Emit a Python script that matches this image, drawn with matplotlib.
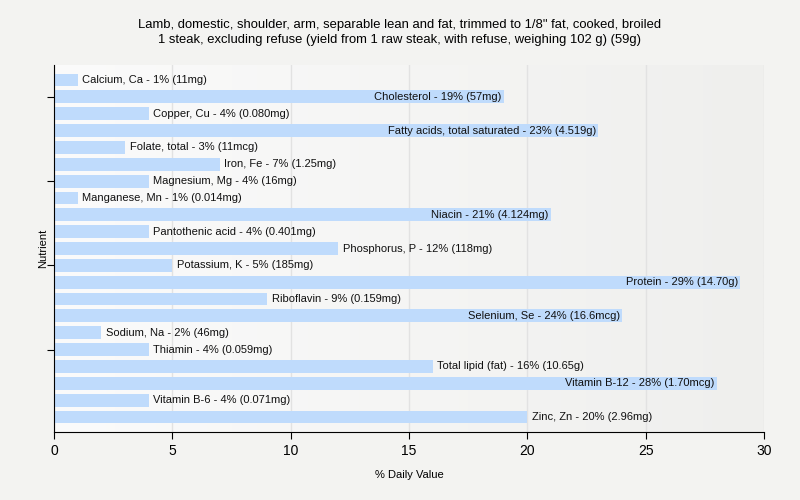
import numpy as np
import matplotlib.pyplot as plt
from matplotlib.colors import LinearSegmentedColormap

plt.rcParams['font.family'] = ['Liberation Sans', 'DejaVu Sans']

nutrients = ["Calcium, Ca", "Cholesterol", "Copper, Cu", "Fatty acids, total saturated",
             "Folate, total", "Iron, Fe", "Magnesium, Mg", "Manganese, Mn", "Niacin",
             "Pantothenic acid", "Phosphorus, P", "Potassium, K", "Protein", "Riboflavin",
             "Selenium, Se", "Sodium, Na", "Thiamin", "Total lipid (fat)", "Vitamin B-12",
             "Vitamin B-6", "Zinc, Zn"]
percent = [1, 19, 4, 23, 3, 7, 4, 1, 21, 4, 12, 5, 29, 9, 24, 2, 4, 16, 28, 4, 20]
amounts = ["11mg", "57mg", "0.080mg", "4.519g", "11mcg", "1.25mg", "16mg", "0.014mg",
           "4.124mg", "0.401mg", "118mg", "185mg", "14.70g", "0.159mg", "16.6mcg", "46mg",
           "0.059mg", "10.65g", "1.70mcg", "0.071mg", "2.96mg"]
label_inside = ["Cholesterol", "Fatty acids, total saturated", "Niacin", "Protein",
                "Selenium, Se", "Vitamin B-12"]

title = ('Lamb, domestic, shoulder, arm, separable lean and fat, trimmed to 1/8" fat, cooked, broiled\n'
         '1 steak, excluding refuse (yield from 1 raw steak, with refuse, weighing 102 g) (59g)')

fig = plt.figure(figsize=(8, 5), dpi=100)
fig.patch.set_facecolor('#f3f3f1')
n = len(nutrients)
ax = fig.add_axes([54 / 800, (500 - 432) / 500, 710 / 800, (432 - 65) / 500])

pad = 0.89
ylim = (n - 1 + pad, -pad)

# subtle horizontal gradient background
grad = np.linspace(0, 1, 256).reshape(1, -1)
ax.imshow(grad, extent=[0, 30, ylim[0], ylim[1]], aspect='auto',
          cmap=LinearSegmentedColormap.from_list('g', ['#fbfbfb', '#efefed']), zorder=0)

y = np.arange(n)
ax.barh(y, percent, height=0.76, color='#bfdbfc', zorder=2)
for i in range(n):
    txt = f"{nutrients[i]} - {percent[i]}% ({amounts[i]})"
    if nutrients[i] in label_inside:
        ax.text(percent[i] - 0.1, i, txt, ha='right', va='center', fontsize=8, color='#111111', zorder=3)
    else:
        ax.text(percent[i] + 0.2, i, txt, ha='left', va='center', fontsize=8, color='#111111', zorder=3)

ax.set_xlim(0, 30)
ax.set_ylim(*ylim)
ax.set_xticks([0, 5, 10, 15, 20, 25, 30])
ax.xaxis.grid(True, color='#e2e2e2', linewidth=1, zorder=1)
ax.set_axisbelow(True)
ax.set_yticks([1, 6, 11, 16])
ax.set_yticklabels([])
for s in ['top', 'right']:
    ax.spines[s].set_visible(False)
ax.tick_params(axis='both', direction='out', length=5, color='black', labelsize=10)
ax.set_xlabel('% Daily Value', fontsize=8, labelpad=9)
ax.set_ylabel('Nutrient', fontsize=8, labelpad=-4)
fig.suptitle(title, fontsize=9.4, y=0.962, linespacing=1.35)

fig.savefig('out.png', dpi=100, facecolor=fig.get_facecolor())
